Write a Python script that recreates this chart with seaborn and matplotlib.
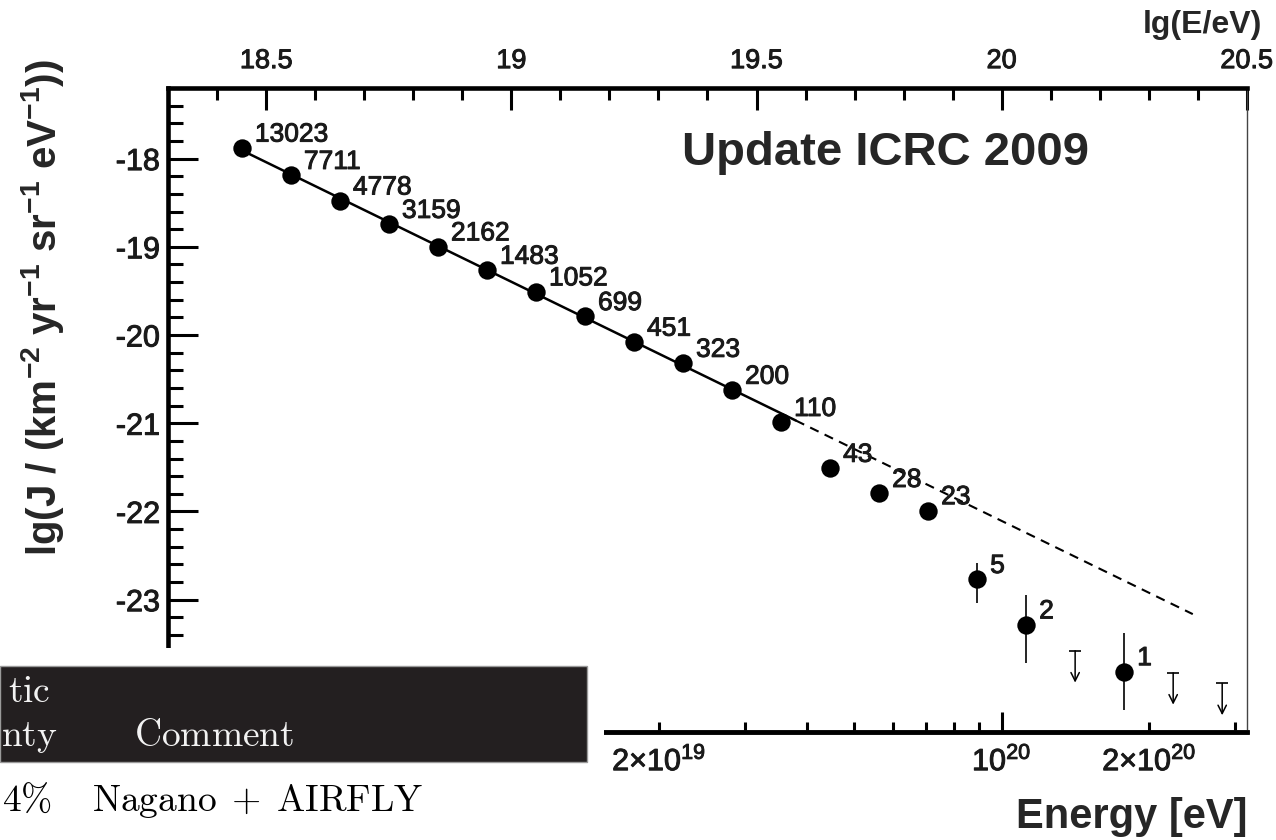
import numpy as np
import pandas as pd
import matplotlib
matplotlib.use("Agg")
import matplotlib.pyplot as plt
import matplotlib.patheffects as pe
import seaborn as sns
from matplotlib.patches import Rectangle
from matplotlib.ticker import MultipleLocator, FixedLocator, FuncFormatter

# Combined energy spectrum, bins in lg(E/eV)
lg_energy = [18.45, 18.55, 18.65, 18.75, 18.85, 18.95, 19.05, 19.15, 19.25,
             19.35, 19.45, 19.55, 19.65, 19.75, 19.85, 19.95, 20.05, 20.25]
lg_flux = [-17.88, -18.19, -18.48, -18.745, -19.00, -19.265, -19.51, -19.79,
           -20.08, -20.32, -20.625, -20.99, -21.51, -21.795, -21.99,
           -22.77, -23.285, -23.815]
event_counts = [13023, 7711, 4778, 3159, 2162, 1483, 1052, 699, 451, 323,
                200, 110, 43, 28, 23, 5, 2, 1]

# Poisson error bars of the sparse high-energy bins
err_lg_energy = [19.95, 20.05, 20.25]
err_lg_flux = [-22.77, -23.285, -23.815]
err_low = [0.27, 0.43, 0.43]
err_high = [0.19, 0.34, 0.44]

# upper limits for the empty bins
limit_lg_energy = [20.15, 20.35, 20.45]
limit_lg_flux = [-23.58, -23.83, -23.95]
limit_arrow_len = 0.36

# power-law fit below the suppression, dashed extrapolation above it
fit_index = 2.71
fit_lg_flux_at_19 = -19.397
fit_solid_range = [18.45, 19.58]
fit_dashed_range = [19.58, 20.39]

lg_e_major_ticks = [18.5, 19.0, 19.5, 20.0, 20.5]
lg_e_tick_labels = ["18.5", "19", "19.5", "20", "20.5"]
lg_flux_major_ticks = [-18, -19, -20, -21, -22, -23]
lg_flux_tick_labels = ["-18", "-19", "-20", "-21", "-22", "-23"]
energy_major_ticks = [1e20]
energy_minor_ticks = [2e19, 3e19, 4e19, 5e19, 6e19, 7e19, 8e19, 9e19, 2e20, 3e20]
energy_tick_labels = {2e19: r"$2{\times}10^{19}$", 1e20: r"$10^{20}$",
                      2e20: r"$2{\times}10^{20}$"}

sns.set_style("ticks")
plt.rcParams["font.family"] = ["Liberation Sans", "DejaVu Sans"]
plt.rcParams["mathtext.default"] = "regular"

W, H = 1276, 840
fig = plt.figure(figsize=(W / 100, H / 100), dpi=100)
ax = fig.add_axes([168.3 / W, 1 - 732 / H, (1246.7 - 168.3) / W, (732 - 88) / H])

heavy = [pe.withStroke(linewidth=0.7, foreground="#1a1a1a")]

spectrum = pd.DataFrame({"lg_e": lg_energy, "lg_j": lg_flux, "n": event_counts})

# fit line
x_solid = np.linspace(*fit_solid_range, 50)
x_dash = np.linspace(*fit_dashed_range, 50)
ax.plot(x_solid, fit_lg_flux_at_19 - fit_index * (x_solid - 19.0),
        color="black", lw=1.8, zorder=2)
ax.plot(x_dash, fit_lg_flux_at_19 - fit_index * (x_dash - 19.0),
        color="black", lw=1.5, dashes=(4.5, 3.2), zorder=2)

ax.errorbar(err_lg_energy, err_lg_flux, yerr=[err_low, err_high], fmt="none",
            ecolor="black", elinewidth=1.2, capsize=0, zorder=2)

sns.scatterplot(data=spectrum, x="lg_e", y="lg_j", s=175, color="black",
                edgecolor="black", linewidth=0, ax=ax, zorder=3, legend=False)

for _, row in spectrum.iterrows():
    ax.annotate(f"{int(row.n)}", (row.lg_e, row.lg_j), xytext=(9.4, 4.6),
                textcoords="offset points", ha="left", va="baseline",
                fontsize=19, color="#1a1a1a", zorder=4, path_effects=heavy)

for xe, yl in zip(limit_lg_energy, limit_lg_flux):
    ax.annotate("", xy=(xe, yl - limit_arrow_len), xytext=(xe, yl),
                arrowprops=dict(arrowstyle="->", lw=1.1, color="black",
                                shrinkA=0, shrinkB=0, mutation_scale=15))
    ax.plot([xe], [yl], marker="_", ms=8.5, mew=1.2, color="black")

ax.set_xlim(18.3, 20.5)
ax.set_ylim(-24.5, -17.2)
ax.set_xlabel("")
ax.set_ylabel("")

# top axis: lg(E/eV)
ax.xaxis.tick_top()
ax.xaxis.set_major_locator(FixedLocator(lg_e_major_ticks))
ax.set_xticklabels(lg_e_tick_labels)
ax.xaxis.set_minor_locator(MultipleLocator(0.1))
ax.tick_params(axis="x", which="both", top=True, bottom=False, labeltop=True,
               labelbottom=False, direction="in", width=2.2, color="black")
ax.tick_params(axis="x", which="major", length=16, pad=10, labelsize=19.5)
ax.tick_params(axis="x", which="minor", length=8.6)

# left axis
ax.yaxis.set_major_locator(FixedLocator(lg_flux_major_ticks))
ax.set_yticklabels(lg_flux_tick_labels)
ax.yaxis.set_minor_locator(MultipleLocator(0.2))
ax.tick_params(axis="y", which="both", left=True, right=False, direction="in",
               width=2.2, color="black")
ax.tick_params(axis="y", which="major", length=21.6, pad=6, labelsize=22)
ax.tick_params(axis="y", which="minor", length=10.8)

for side in ["left", "top", "bottom"]:
    ax.spines[side].set_linewidth(3.3)
    ax.spines[side].set_color("black")
ax.spines["right"].set_linewidth(1.0)
ax.spines["right"].set_color("#444444")

# bottom axis: energy in eV
sec = ax.secondary_xaxis("bottom", functions=(lambda v: 10.0 ** v, np.log10))
sec.xaxis.set_major_locator(FixedLocator(energy_major_ticks))
sec.xaxis.set_minor_locator(FixedLocator(energy_minor_ticks))


def energy_label(v, pos=None):
    for k, lab in energy_tick_labels.items():
        if abs(v / k - 1) < 1e-6:
            return lab
    return ""


sec.xaxis.set_major_formatter(FuncFormatter(energy_label))
sec.xaxis.set_minor_formatter(FuncFormatter(energy_label))
sec.tick_params(axis="x", which="both", direction="in", width=2.2,
                labelsize=22, pad=10, color="black")
sec.tick_params(axis="x", which="major", length=14.4)
sec.tick_params(axis="x", which="minor", length=7.2)
sec.spines["bottom"].set_linewidth(3.3)

fig.canvas.draw()
for lab in (ax.get_xticklabels() + ax.get_yticklabels()
            + sec.xaxis.get_majorticklabels() + sec.xaxis.get_minorticklabels()):
    lab.set_path_effects(heavy)
    lab.set_color("#1a1a1a")

ax.text((682 - 168.3) / (1246.7 - 168.3), (732 - 165) / 644, "Update ICRC 2009",
        transform=ax.transAxes, ha="left", va="baseline", fontsize=34,
        fontweight="bold")

fig.text(1247 / W, 1 - 828 / H, "Energy [eV]", ha="right", va="baseline",
         fontsize=30, fontweight="bold")
fig.text(1262 / W, 1 - 33 / H, "lg(E/eV)", ha="right", va="baseline",
         fontsize=23, fontweight="bold")
fig.text(43 / W, 1 - 308 / H,
         r"lg(J / (km$^{-2}$ yr$^{-1}$ sr$^{-1}$ eV$^{-1}$))",
         rotation=90, ha="center", va="center", fontsize=29, fontweight="bold")

# table excerpt in the lower left corner
fig.add_artist(Rectangle((0, 0), 604 / W, (H - 648) / H, transform=fig.transFigure,
                         facecolor="white", edgecolor="none", zorder=5))
fig.add_artist(Rectangle((0, 1 - 762 / H), 587 / W, 96 / H, transform=fig.transFigure,
                         facecolor="#231f20", edgecolor="#9a9a9a", lw=1.0, zorder=6))
table_kw = dict(fontsize=27, math_fontfamily="cm", va="baseline", zorder=7)
fig.text(50 / W, 1 - 702 / H, r"$\mathrm{tic}$", ha="right", color="#f2f2f2", **table_kw)
fig.text(58 / W, 1 - 746 / H, r"$\mathrm{nty}$", ha="right", color="#f2f2f2", **table_kw)
fig.text(134 / W, 1 - 746 / H, r"$\mathrm{Comment}$", ha="left", color="#f2f2f2", **table_kw)
fig.text(52 / W, 1 - 811 / H, r"$\mathrm{4\%}$", ha="right", color="black", **table_kw)
fig.text(92 / W, 1 - 811 / H, r"$\mathrm{Nagano\;+\;AIRFLY}$", ha="left", color="black",
         **table_kw)

fig.savefig("out.png", dpi=100)
